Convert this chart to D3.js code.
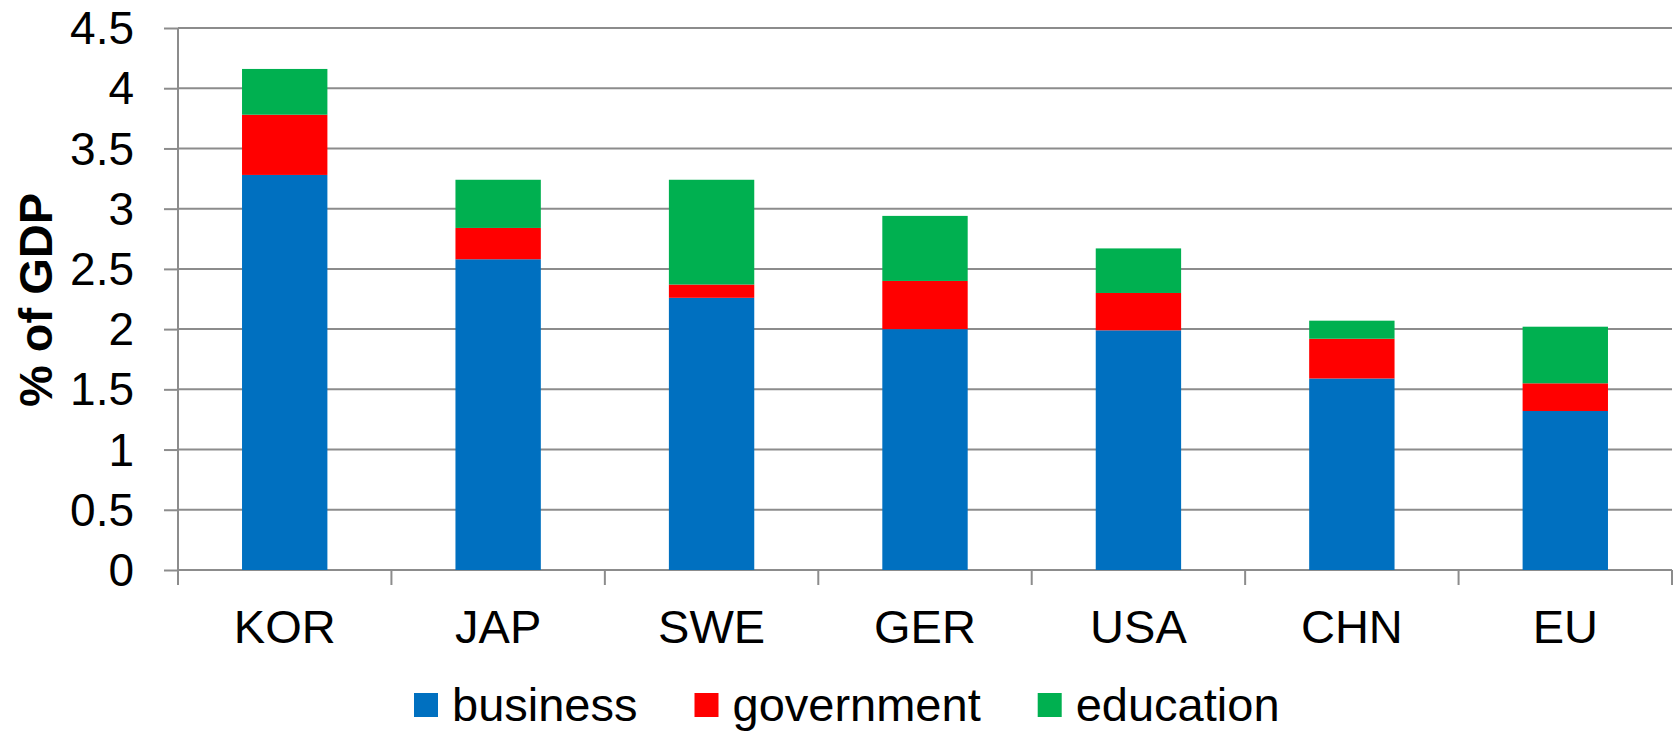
<!DOCTYPE html>
<html>
<head>
<meta charset="utf-8">
<script src="https://cdn.jsdelivr.net/npm/d3@7"></script>
<style>
    html, body { margin: 0; padding: 0; background: #fff; }
    svg { display: block; font-family: "Liberation Sans", Arial, sans-serif; }
</style>
</head>
<body>
<div class="chart"></div>
<script>
const categories = ['KOR', 'JAP', 'SWE', 'GER', 'USA', 'CHN', 'EU']
const business = [3.28, 2.58, 2.26, 2.00, 1.99, 1.59, 1.32]
const government = [0.50, 0.26, 0.11, 0.40, 0.31, 0.33, 0.23]
const education = [0.38, 0.40, 0.87, 0.54, 0.37, 0.15, 0.47]
const seriesNames = ['business', 'government', 'education']
const seriesColors = ['#0070C0', '#FF0000', '#00B050']
const yTicks = [0, 0.5, 1, 1.5, 2, 2.5, 3, 3.5, 4, 4.5]

const width = 1679
const height = 731
const margin = { left: 178, right: 7, top: 28, bottom: 161 }

const rows = categories.map((c, i) => ({
    cat: c,
    business: business[i],
    government: government[i],
    education: education[i]
}))

const svg = d3.select('.chart').append('svg')
    .attr('width', width)
    .attr('height', height)

const x = d3.scaleBand()
    .domain(categories)
    .range([margin.left, width - margin.right])
    .paddingInner(0.6)
    .paddingOuter(0.3)

const y = d3.scaleLinear()
    .domain([0, 4.5])
    .range([height - margin.bottom, margin.top])

const gridColor = '#8c8c8c'

// gridlines + y ticks
const yAxis = svg.append('g')
    .attr('transform', `translate(${margin.left},0)`)
    .call(d3.axisLeft(y)
        .tickValues(yTicks)
        .tickFormat(d => d)
        .tickSize(14)
        .tickPadding(30))
yAxis.select('.domain').remove()
yAxis.selectAll('.tick line').attr('stroke', gridColor).attr('stroke-width', 2)
yAxis.selectAll('.tick text')
    .attr('font-size', 46)
    .attr('fill', '#000')
    .attr('dy', '0.34em')

svg.append('g')
    .selectAll('line')
    .data(yTicks)
    .join('line')
    .attr('x1', margin.left)
    .attr('x2', width - margin.right)
    .attr('y1', d => y(d))
    .attr('y2', d => y(d))
    .attr('stroke', gridColor)
    .attr('stroke-width', 2)

// y axis line
svg.append('line')
    .attr('x1', margin.left).attr('x2', margin.left)
    .attr('y1', y(4.5)).attr('y2', y(0) + 15)
    .attr('stroke', gridColor)
    .attr('stroke-width', 2)

// category boundary ticks
const step = x.step()
const bounds = d3.range(categories.length + 1).map(k => margin.left + k * step)
svg.append('g')
    .selectAll('line')
    .data(bounds)
    .join('line')
    .attr('x1', d => d).attr('x2', d => d)
    .attr('y1', y(0)).attr('y2', y(0) + 15)
    .attr('stroke', gridColor)
    .attr('stroke-width', 2)

// stacked bars
const stack = d3.stack().keys(seriesNames)
const layers = stack(rows)

svg.append('g')
    .selectAll('g')
    .data(layers)
    .join('g')
    .attr('fill', (d, i) => seriesColors[i])
    .selectAll('rect')
    .data(d => d)
    .join('rect')
    .attr('x', d => x(d.data.cat))
    .attr('width', x.bandwidth())
    .attr('y', d => y(d[1]))
    .attr('height', d => y(d[0]) - y(d[1]))

// x labels
svg.append('g')
    .selectAll('text')
    .data(categories)
    .join('text')
    .attr('x', d => x(d) + x.bandwidth() / 2)
    .attr('y', 643)
    .attr('text-anchor', 'middle')
    .attr('font-size', 47)
    .text(d => d)

// y title
svg.append('text')
    .attr('transform', 'translate(52,300) rotate(-90)')
    .attr('text-anchor', 'middle')
    .attr('font-size', 47)
    .attr('font-weight', 'bold')
    .text('% of GDP')

// legend
const legend = svg.append('g')
let lx = 414
seriesNames.forEach((name, i) => {
    legend.append('rect')
        .attr('x', lx)
        .attr('y', 693)
        .attr('width', 24)
        .attr('height', 24)
        .attr('fill', seriesColors[i])
    const t = legend.append('text')
        .attr('x', lx + 38)
        .attr('y', 721)
        .attr('font-size', 47)
        .text(name)
    lx += 38 + t.node().getComputedTextLength() + 57
})
</script>
</body>
</html>
